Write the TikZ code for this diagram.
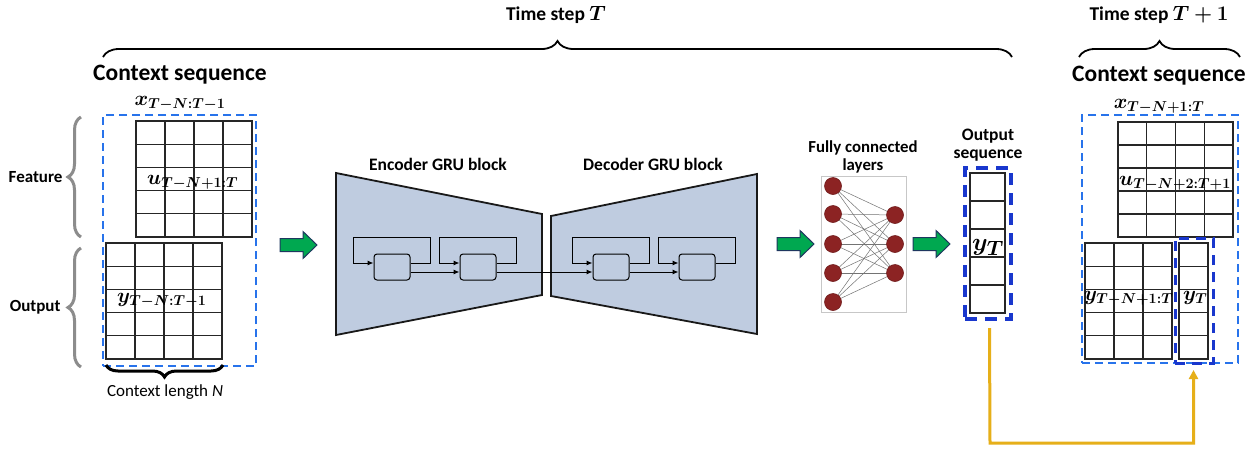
\documentclass[tikz,border=0pt]{standalone}
\usepackage{amsmath,bm}
\usepackage{fontspec}
\setmainfont{Carlito}
\usetikzlibrary{calc,decorations.pathreplacing,arrows.meta}
\definecolor{trap}{RGB}{191,204,224}
\definecolor{dashblue}{RGB}{40,115,235}
\definecolor{thickblue}{RGB}{25,55,205}
\definecolor{arrgreen}{RGB}{0,168,80}
\definecolor{arrnavy}{RGB}{30,55,95}
\definecolor{neuron}{RGB}{140,35,35}
\definecolor{goldc}{RGB}{230,175,25}
\definecolor{bracegray}{RGB}{140,140,140}
\pgfdeclarelayer{bg}
\pgfsetlayers{bg,main}
\newcommand{\gridlines}[3]{%
  \foreach \i in {1,...,#2}
    \draw[gridline] ($(#1.north west)!{\i/#2}!(#1.north east)$) -- ($(#1.south west)!{\i/#2}!(#1.south east)$);
  \foreach \j in {1,...,#3}
    \draw[gridline] ($(#1.north west)!{\j/#3}!(#1.south west)$) -- ($(#1.north east)!{\j/#3}!(#1.south east)$);
}
\tikzset{
  titlefont/.style={font=\bfseries\fontsize{23.5}{27}\selectfont},
  stepfont/.style={font=\bfseries\fontsize{19.5}{22}\selectfont},
  lbl/.style={font=\bfseries\fontsize{17}{19}\selectfont, align=center},
  gridbox/.style={draw=black!85, line width=1.2pt, anchor=north west, inner sep=0pt, outer sep=0pt},
  gridline/.style={draw=black!85, line width=1.2pt},
  thindash/.style={draw=dashblue, line width=1.8pt, dash pattern=on 8pt off 5pt, anchor=north west, inner sep=0pt, outer sep=0pt},
  thickdash/.style={draw=thickblue, line width=3.5pt, dash pattern=on 12pt off 8pt, anchor=north west, inner sep=0pt, outer sep=0pt},
  mathlbl/.style={font=\fontsize{22}{26}\selectfont, inner sep=0pt, anchor=base west},
  xlbl/.style={font=\fontsize{20}{24}\selectfont, inner sep=0pt, anchor=base},
  trapez/.style={fill=trap, draw=black!90, line width=1.8pt, line join=miter},
  cell/.style={draw=black, fill=trap, line width=1pt, rounded corners=3pt, minimum width=36pt, minimum height=26pt, inner sep=0pt},
  gruarrow/.style={draw=black, line width=1pt, -{Latex[length=6pt,width=5pt]}},
  neuronst/.style={circle, fill=neuron, draw=neuron!80!black, line width=0.6pt, minimum size=17pt, inner sep=0pt},
  fcline/.style={draw=black!55, line width=0.5pt},
  blackbrace/.style={draw=black, line width=1.8pt, decorate, decoration={brace, amplitude=16pt}},
  graybrace/.style={draw=bracegray, line width=3pt, decorate, decoration={brace, amplitude=13pt}},
  lenbrace/.style={draw=black, line width=3pt, decorate, decoration={brace, amplitude=12pt}},
  goldline/.style={draw=goldc, line width=3pt, -{Triangle[length=9pt,width=9pt]}},
  pics/garrow/.style={code={\draw[fill=arrgreen, draw=arrnavy, line width=1pt, line join=miter]
     (0,-6.5) -- (23,-6.5) -- (23,-13.5) -- (37,0) -- (23,13.5) -- (23,6.5) -- (0,6.5) -- cycle;}}
}
\begin{document}
\begin{tikzpicture}[x=1pt,y=-1pt]
\useasboundingbox (0,0) rectangle (1256,448);
\begin{pgfonlayer}{bg}
\fill[white] (0,0) rectangle (1256,448);
\end{pgfonlayer}

% ---------- top labels and braces ----------
\node[stepfont, anchor=base] (tsT) at (556,20) {Time step $\bm{T}$};
\coordinate (bTl) at (103,57);
\coordinate (bTr) at (1012,57);
\draw[blackbrace] (bTl) -- (bTr);
\node[stepfont, anchor=base] (tsT1) at (1159,20) {Time step $\bm{T+1}$};
\coordinate (bT1l) at (1079,57);
\coordinate (bT1r) at (1240,57);
\draw[blackbrace] (bT1l) -- (bT1r);

\node[titlefont, anchor=base] (csL) at (180,80) {Context sequence};
\node[titlefont, anchor=base] (csR) at (1159,81) {Context sequence};

% ---------- left context sequence ----------
\node[thindash, minimum width=153pt, minimum height=251pt] (ctxL) at (103,115) {};
\node[xlbl] (xL) at (180,105) {$\bm{x}_{\bm{T-N:T-1}}$};
\node[gridbox, minimum width=116pt, minimum height=116pt] (uL) at (136,121) {};
\gridlines{uL}{4}{5}
\node[gridbox, minimum width=116pt, minimum height=116pt] (yL) at (106,243) {};
\gridlines{yL}{4}{5}
\node[mathlbl] (uLlbl) at (147,184) {$\bm{u}_{\bm{T-N+1:T}}$};
\node[mathlbl] (yLlbl) at (117,302) {$\bm{y}_{\bm{T-N:T-1}}$};

% side braces
\coordinate (fb1) at (81,237);
\coordinate (fb2) at (81,117);
\draw[graybrace] (fb1) -- (fb2);
\coordinate (ob1) at (81,367);
\coordinate (ob2) at (81,248);
\draw[graybrace] (ob1) -- (ob2);
\node[lbl, anchor=east] (feat) at (66,177) {Feature};
\node[lbl, anchor=east] (outp) at (64,307) {Output};

\coordinate (lb1) at (223,365);
\coordinate (lb2) at (106,365);
\draw[lenbrace] (lb1) -- (lb2);
\node[font=\fontsize{17}{19}\selectfont, anchor=base] (clen) at (165,396) {Context length \textit{N}};

% ---------- green arrows ----------
\pic at (280,245) {garrow};
\pic at (777,244) {garrow};
\pic at (913,244) {garrow};

% ---------- encoder / decoder ----------
\coordinate (e1) at (336,173);
\coordinate (e2) at (542,214);
\coordinate (e3) at (542,295);
\coordinate (e4) at (336,335);
\draw[trapez] (e1) -- (e2) -- (e3) -- (e4) -- cycle;
\coordinate (d1) at (551,216);
\coordinate (d2) at (757,174);
\coordinate (d3) at (757,334);
\coordinate (d4) at (551,296);
\draw[trapez] (d1) -- (d2) -- (d3) -- (d4) -- cycle;
\node[lbl, font=\bfseries\fontsize{17.5}{19}\selectfont, anchor=base] (encl) at (438,170) {Encoder GRU block};
\node[lbl, font=\bfseries\fontsize{17.5}{19}\selectfont, anchor=base] (decl) at (653,170) {Decoder GRU block};

\node[cell] (c1) at (392,267) {};
\node[cell] (c2) at (478,267) {};
\node[cell] (c3) at (611,267) {};
\node[cell] (c4) at (697,267) {};
\foreach \c in {c1,c2,c3,c4}
  \draw[gruarrow] ($(\c.east)+(0,-4)$) -- ++(20,0) -- ++(0,-26) -- ++(-77,0) -- ++(0,26) -- ($(\c.west)+(0,-4)$);
\draw[gruarrow] ($(c1.east)+(0,5)$) -- ($(c2.west)+(0,5)$);
\draw[gruarrow] ($(c2.east)+(0,5)$) -- ($(c3.west)+(0,5)$);
\draw[gruarrow] ($(c3.east)+(0,5)$) -- ($(c4.west)+(0,5)$);

% ---------- fully connected ----------
\node[lbl, font=\bfseries\fontsize{16.8}{17.5}\selectfont] (fcl) at (863,157) {Fully connected\\layers};
\node[draw=black!22, line width=0.8pt, minimum width=85pt, minimum height=136pt, anchor=north west, inner sep=0pt] (fcbox) at (821,176) {};
\node[neuronst] (L1) at (833,186) {};
\node[neuronst] (L2) at (833,214) {};
\node[neuronst] (L3) at (833,244) {};
\node[neuronst] (L4) at (833,273) {};
\node[neuronst] (L5) at (833,302) {};
\node[neuronst] (R1) at (895,215) {};
\node[neuronst] (R2) at (895,244) {};
\node[neuronst] (R3) at (895,273) {};
\begin{pgfonlayer}{bg}
\foreach \i in {1,...,5}
  \foreach \j in {1,2,3}
    \draw[fcline] (L\i.center) -- (R\j.center);
\end{pgfonlayer}

% ---------- output sequence ----------
\node[lbl, font=\bfseries\fontsize{17.5}{18}\selectfont] (osl) at (988,145) {Output\\sequence};
\node[gridbox, minimum width=35pt, minimum height=140pt] (outcol) at (970,173) {};
\gridlines{outcol}{1}{5}
\node[thickdash, minimum width=46pt, minimum height=151pt] (outdash) at (965,168) {};
\node[mathlbl, font=\fontsize{28}{32}\selectfont] (yTout) at (972,250) {$\bm{y}_{\bm{T}}$};

% ---------- right context sequence ----------
\node[thindash, minimum width=156pt, minimum height=248pt] (ctxR) at (1082,115) {};
\node[xlbl] (xR) at (1159,108) {$\bm{x}_{\bm{T-N+1:T}}$};
\node[gridbox, minimum width=115pt, minimum height=115pt] (uR) at (1118,122) {};
\gridlines{uR}{4}{5}
\node[gridbox, minimum width=87pt, minimum height=116pt] (yR) at (1085,243) {};
\gridlines{yR}{3}{5}
\node[gridbox, minimum width=29pt, minimum height=116pt] (ytcol) at (1179,243) {};
\gridlines{ytcol}{1}{5}
\node[thickdash, line width=3pt, dash pattern=on 10pt off 7pt, minimum width=38pt, minimum height=125pt] (ytdash) at (1175,238) {};
\node[mathlbl] (uRlbl) at (1119,185) {$\bm{u}_{\bm{T-N+2:T+1}}$};
\node[mathlbl] (yRlbl) at (1084,300) {$\bm{y}_{\bm{T-N+1:T}}$};
\node[mathlbl] (yTR) at (1183,300) {$\bm{y}_{\bm{T}}$};

% ---------- feedback connector ----------
\coordinate (g1) at ($(outcol.south)+(2,15)$);
\coordinate (g2) at ($(ytcol.south)+(0,11)$);
\coordinate (g3) at (990,443);
\draw[goldline] (g1) -- (g3) -| (g2);
\end{tikzpicture}
\end{document}
